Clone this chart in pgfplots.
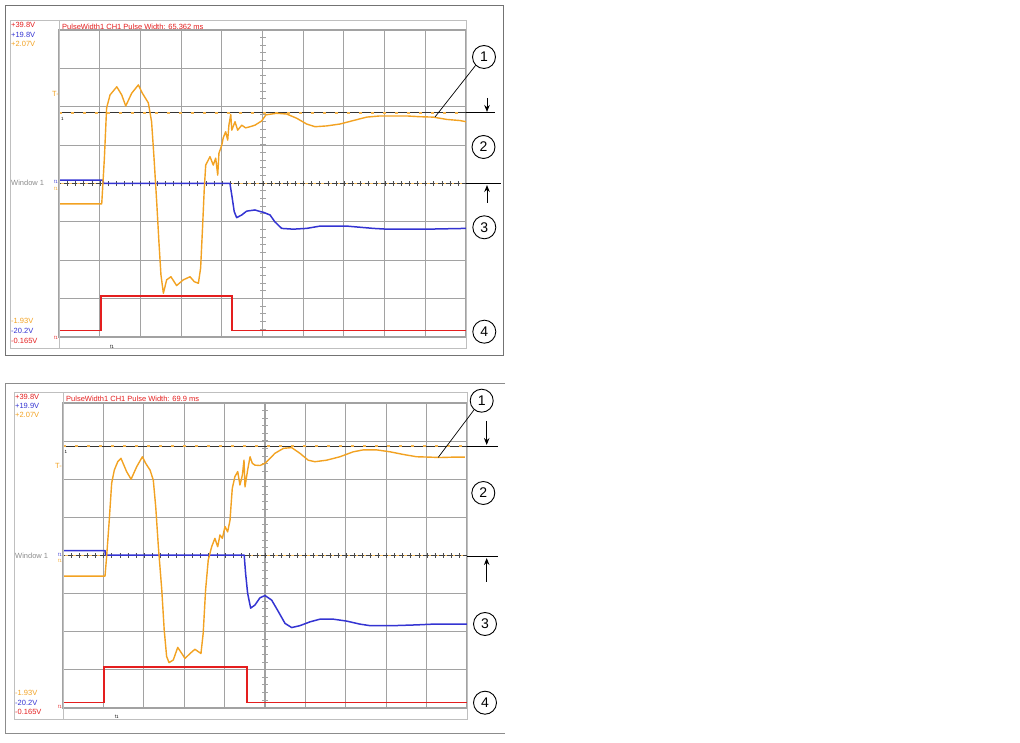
\documentclass[border=0pt]{standalone}
\usepackage{fontspec}
\setmainfont{Liberation Sans}
\usepackage{pgfplots}
\pgfplotsset{compat=1.18}
\usetikzlibrary{arrows.meta}

\definecolor{scorange}{HTML}{F2A222}
\definecolor{scblue}{HTML}{3434D2}
\definecolor{scred}{HTML}{E41E1E}
\definecolor{scgrid}{HTML}{A2A2A2}

% one scope screen: 10 div x 20 ms, 8 div vertical
\pgfplotsset{
  scopescreen/.style={
    scale only axis,
    xmin=0, xmax=200, ymin=0, ymax=8,
    xtick={0,20,...,200}, ytick={0,...,8},
    xticklabels={}, yticklabels={},
    major tick length=0pt,
    grid=major, grid style={scgrid, line width=1.1pt},
    axis line style={scgrid, line width=1.1pt},
    clip=false,
  },
  trace/.style={line width=1.4pt, line join=round},
}
\newcommand{\lbl}{\fontsize{7.5}{7.5}\selectfont}
\newcommand{\tinylbl}{\fontsize{4.5}{4.5}\selectfont}

\begin{document}
\begin{tikzpicture}
\path[use as bounding box] (0,0) rectangle (1020pt,742pt);

%% ---------- top screen ----------
\begin{axis}[scopescreen, at={(59pt,405pt)}, anchor=south west, width=407pt, height=307pt]
% center axis with minor ticks
\draw[scgrid, line width=6pt, dash pattern=on 0.7pt off 6.975pt] (axis cs:100,0) -- (axis cs:100,8);
% window line
\draw[black!75, line width=1pt] (axis cs:0,4) -- (axis cs:200,4);
\draw[black!70, line width=5pt, dash pattern=on 0.7pt off 7.44pt] (axis cs:0,4) -- (axis cs:200,4);
\draw[scorange!70, line width=1.4pt, dash pattern=on 2.5pt off 5.64pt, dash phase=-2pt] (axis cs:0,4) -- (axis cs:200,4);
% reference level
\draw[black!80, line width=1pt] (axis cs:0,5.84) -- (axis cs:200,5.84);
\draw[scorange!80, line width=1.3pt, dash pattern=on 3pt off 9pt] (axis cs:0,5.84) -- (axis cs:200,5.84);

\addplot[scred, line width=1pt] coordinates {
 (0,0.16) (20.8,0.16) (20.8,1.07) (85.0,1.07) (85.0,0.16) (200,0.16)
};
\addplot[scred, line width=2.2pt] coordinates {
 (20.8,0.16) (20.8,1.07) (85.0,1.07) (85.0,0.16)
};
\addplot[scblue, line width=1.5pt, line join=round] coordinates {
 (0,4.09) (21.6,4.09) (21.9,4.0) (84.0,4.0) (84.9,3.70) (86.1,3.27) (87.3,3.11)
 (89.8,3.18) (92.2,3.28) (96.3,3.31) (98.8,3.27) (100.4,3.25) (103.7,3.18)
 (106.1,3.00) (109.4,2.83) (115.1,2.81) (121.7,2.83) (128.3,2.89) (134.8,2.89)
 (141.4,2.89) (147.9,2.86) (154.5,2.83) (161.0,2.81) (167.6,2.81) (180.7,2.81)
 (190.5,2.82) (200,2.83)
};
\addplot[scorange, trace] coordinates {
 (0,3.47) (21.0,3.47) (22.3,4.66) (23.4,5.97) (25.1,6.31) (28.4,6.52) (30.8,6.31)
 (32.8,6.02) (35.7,6.35) (39.0,6.57) (40.9,6.36) (43.9,6.10) (45.5,5.61) (46.7,4.66)
 (48.0,3.53) (49.1,2.48) (50.1,1.62) (51.3,1.14) (52.9,1.49) (55.0,1.57) (57.8,1.34)
 (61.1,1.49) (64.4,1.57) (66.5,1.44) (68.5,1.40) (69.6,1.80) (70.6,2.92) (71.4,3.88)
 (72.1,4.48) (74.2,4.70) (75.8,4.48) (77.0,4.66) (78.0,4.22) (78.6,4.79) (80.0,5.00)
 (80.7,5.19) (81.9,5.35) (82.9,5.13) (83.5,5.52) (84.4,5.80) (84.9,5.39) (86.5,5.61)
 (87.8,5.39) (89.8,5.52) (91.7,5.45) (93.9,5.48) (96.3,5.52) (99.6,5.63) (101.7,5.79)
 (107.0,5.83) (111.9,5.81) (116.8,5.70) (121.7,5.55) (125.8,5.48) (131.5,5.50)
 (138.1,5.55) (144.6,5.64) (151.2,5.73) (157.7,5.76) (164.3,5.76) (170.9,5.76)
 (177.4,5.74) (183.9,5.73) (190.5,5.67) (197.1,5.64) (200,5.61)
};
\end{axis}

%% ---------- bottom screen ----------
\begin{axis}[scopescreen, at={(63pt,34pt)}, anchor=south west, width=404pt, height=305pt]
\draw[scgrid, line width=6pt, dash pattern=on 0.7pt off 6.925pt] (axis cs:100,0) -- (axis cs:100,8);
\draw[black!75, line width=1pt] (axis cs:0,4) -- (axis cs:200,4);
\draw[black!70, line width=5pt, dash pattern=on 0.7pt off 7.38pt] (axis cs:0,4) -- (axis cs:200,4);
\draw[scorange!70, line width=1.4pt, dash pattern=on 2.5pt off 5.58pt, dash phase=-2pt] (axis cs:0,4) -- (axis cs:200,4);
\draw[black!80, line width=1pt] (axis cs:0,6.87) -- (axis cs:200,6.87);
\draw[scorange!80, line width=1.3pt, dash pattern=on 3pt off 9pt] (axis cs:0,6.87) -- (axis cs:200,6.87);

\addplot[scred, line width=1pt] coordinates {
 (0,0.14) (20.4,0.14) (20.4,1.07) (90.9,1.07) (90.9,0.14) (200,0.14)
};
\addplot[scred, line width=2.2pt] coordinates {
 (20.4,0.14) (20.4,1.07) (90.9,1.07) (90.9,0.14)
};
\addplot[scblue, line width=1.5pt, line join=round] coordinates {
 (0,4.13) (20.8,4.13) (21.0,4.01) (89.7,4.01) (90.4,3.53) (91.4,3.01) (92.9,2.62)
 (95.0,2.70) (97.5,2.89) (100.0,2.95) (103.3,2.83) (106.6,2.53) (109.9,2.22)
 (113.2,2.11) (117.3,2.16) (122.3,2.26) (127.2,2.33) (133.8,2.33) (140.4,2.28)
 (147.0,2.20) (152.0,2.16) (163.5,2.16) (175.1,2.18) (183.3,2.20) (200,2.20)
};
\addplot[scorange, trace] coordinates {
 (0,3.46) (20.8,3.46) (21.6,3.97) (22.8,4.85) (24.1,5.90) (25.4,6.24) (27.1,6.46)
 (28.7,6.55) (31.5,6.20) (33.7,6.00) (36.5,6.33) (39.3,6.59) (40.9,6.42) (43.1,6.24)
 (44.7,5.98) (45.9,5.28) (47.2,4.24) (48.9,3.10) (50.1,2.05) (51.3,1.35) (52.5,1.19)
 (54.6,1.26) (56.8,1.59) (58.8,1.43) (60.4,1.30) (62.9,1.43) (65.3,1.54) (68.3,1.43)
 (69.4,1.96) (70.6,3.10) (71.9,3.88) (73.6,4.23) (75.2,4.45) (76.6,4.23) (77.7,4.54)
 (78.9,4.45) (80.2,4.76) (81.5,4.62) (82.7,4.93) (83.2,5.32) (83.8,5.76) (85.1,6.07)
 (86.5,6.20) (87.6,5.85) (88.8,6.11) (89.6,6.50) (90.1,5.80) (91.4,6.24) (92.6,6.59)
 (93.7,6.42) (95.0,6.37) (97.5,6.36) (100.0,6.42) (102.5,6.55) (104.9,6.68)
 (109.1,6.81) (113.2,6.83) (117.3,6.68) (121.4,6.50) (124.7,6.46) (130.5,6.50)
 (137.1,6.59) (143.7,6.72) (148.6,6.77) (155.3,6.77) (161.9,6.72) (168.5,6.65)
 (175.1,6.59) (181.7,6.58) (186.6,6.57) (193.2,6.58) (199.0,6.58)
};
\end{axis}

%% ---------- frames, labels and callouts (pixel layout, y down) ----------
\begin{scope}[yshift=742pt, x=1pt, y=-1pt]
% top screen frames
\draw[black!55, line width=0.8pt] (5,5) rectangle (503,355);
\draw[black!25, line width=0.8pt] (10,20) rectangle (466,348);
\draw[black!25, line width=0.8pt] (59,20) -- (59,348);
% bottom screen frames
\draw[black!45, line width=0.8pt] (505,383) -- (5,383) -- (5,733) -- (505,733);
\draw[black!25, line width=0.8pt] (14,392) rectangle (467,719);
\draw[black!25, line width=0.8pt] (63,392) -- (63,719);

% top screen texts
\node[anchor=west, inner sep=0pt, text=scred] at (62,27) {\lbl PulseWidth1 CH1 Pulse Width: 65.362 ms};
\node[anchor=west, inner sep=0pt, text=scred] at (11,25) {\lbl +39.8V};
\node[anchor=west, inner sep=0pt, text=scblue] at (11,34.5) {\lbl +19.8V};
\node[anchor=west, inner sep=0pt, text=scorange] at (11,44) {\lbl +2.07V};
\node[anchor=west, inner sep=0pt, text=scorange] at (11,321) {\lbl -1.93V};
\node[anchor=west, inner sep=0pt, text=scblue] at (11,331) {\lbl -20.2V};
\node[anchor=west, inner sep=0pt, text=scred] at (11,341) {\lbl -0.165V};
\node[anchor=west, inner sep=0pt, text=black!45] at (11,183) {\lbl Window 1};
\node[anchor=east, inner sep=0pt, text=scorange] at (59,94) {\lbl T-};
\node[anchor=east, inner sep=0pt, text=scblue] at (58,182) {\tinylbl f1};
\node[anchor=east, inner sep=0pt, text=scorange] at (58,188.5) {\tinylbl f1};
\node[anchor=east, inner sep=0pt, text=scred] at (58,338) {\tinylbl f1};
\node[inner sep=0pt] at (112,347) {\tinylbl f1};
\node[inner sep=0pt] at (62.5,118.5) {\tinylbl 1};

% bottom screen texts
\node[anchor=west, inner sep=0pt, text=scred] at (66,399) {\lbl PulseWidth1 CH1 Pulse Width: 69.9 ms};
\node[anchor=west, inner sep=0pt, text=scred] at (15,397) {\lbl +39.8V};
\node[anchor=west, inner sep=0pt, text=scblue] at (15,406) {\lbl +19.9V};
\node[anchor=west, inner sep=0pt, text=scorange] at (15,415) {\lbl +2.07V};
\node[anchor=west, inner sep=0pt, text=scorange] at (15,692.7) {\lbl -1.93V};
\node[anchor=west, inner sep=0pt, text=scblue] at (15,702.7) {\lbl -20.2V};
\node[anchor=west, inner sep=0pt, text=scred] at (15,711.7) {\lbl -0.165V};
\node[anchor=west, inner sep=0pt, text=black!45] at (15,556) {\lbl Window 1};
\node[anchor=east, inner sep=0pt, text=scorange] at (62,466) {\lbl T-};
\node[anchor=east, inner sep=0pt, text=scblue] at (62,555) {\tinylbl f1};
\node[anchor=east, inner sep=0pt, text=scorange] at (62,561) {\tinylbl f1};
\node[anchor=east, inner sep=0pt, text=scred] at (62,707) {\tinylbl f1};
\node[inner sep=0pt] at (116.7,717) {\tinylbl f1};
\node[inner sep=0pt] at (66,451.5) {\tinylbl 1};

% callouts, top screen
\tikzset{num/.style={draw, circle, minimum size=23pt, inner sep=0pt, line width=0.9pt, font=\fontsize{14}{14}\selectfont},
  arr/.style={black, line width=1pt, -{Stealth[length=7pt,width=5.5pt]}}}
\draw[black, line width=1pt] (466,113) -- (495,113);
\draw[black, line width=1pt] (466,183.5) -- (501,183.5);
\draw[arr] (487,98) -- (487,112);
\draw[arr] (487,203) -- (487,185);
\node[num] (a1) at (484,57) {1};
\draw[black, line width=0.7pt] (a1.225) -- (435,117);
\node[num] at (483.5,147) {2};
\node[num] at (484.3,227.3) {3};
\node[num] at (484.3,331.7) {4};

% callouts, bottom screen
\draw[black, line width=1pt] (467,446.3) -- (498,446.3);
\draw[black, line width=1pt] (467,556.3) -- (498,556.3);
\draw[arr] (486.7,421) -- (486.7,445);
\draw[arr] (486.7,582) -- (486.7,558);
\node[num] (b1) at (481.7,400.7) {1};
\draw[black, line width=0.7pt] (b1.230) -- (438.3,457.3);
\node[num] at (483.3,493) {2};
\node[num] at (485,624) {3};
\node[num] at (485,702.7) {4};
\end{scope}
\end{tikzpicture}
\end{document}
